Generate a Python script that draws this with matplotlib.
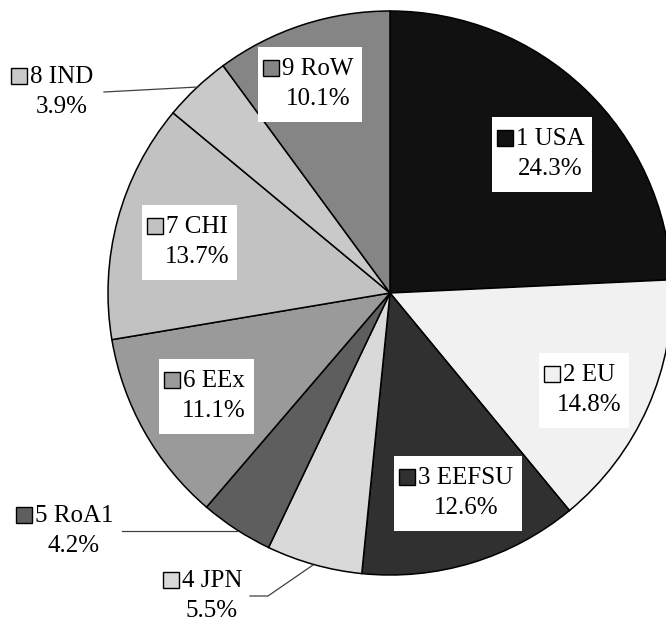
import matplotlib
matplotlib.use('Agg')
import matplotlib.pyplot as plt
from matplotlib.patches import Rectangle

regions = ['1 USA', '2 EU', '3 EEFSU', '4 JPN', '5 RoA1', '6 EEx', '7 CHI', '8 IND', '9 RoW']
shares = [24.3, 14.8, 12.6, 5.5, 4.2, 11.1, 13.7, 3.9, 10.1]
colors = ['#111111', '#f1f1f1', '#303030', '#d9d9d9', '#5e5e5e',
          '#9a9a9a', '#c2c2c2', '#c9c9c9', '#858585']

# label block centres in pixels (from top-left), and which get a white box
label_pos = [(550, 154), (589, 390), (466, 493), (212, 596), (74, 531),
             (214, 396), (197, 242), (62, 92), (318, 84)]
boxed = [True, True, True, False, False, True, True, False, True]
leaders = {3: [(250, 596), (268, 596), (313, 565)],
           4: [(122, 531), (237, 531)],
           7: [(104, 92), (198, 87)]}

plt.rcParams['font.family'] = ['Liberation Serif', 'DejaVu Serif']
W, H = 666, 621
CX, CY, R = 390, 293, 282

fig = plt.figure(figsize=(W / 100, H / 100), dpi=100)
ax = fig.add_axes([(CX - R) / W, (H - CY - R) / H, 2 * R / W, 2 * R / H])
ax.pie(shares, colors=colors, startangle=90, counterclock=False, radius=1,
       wedgeprops=dict(edgecolor='black', linewidth=1.1))
ax.set_xlim(-1, 1)
ax.set_ylim(-1, 1)
ax.axis('off')


def P(px, py):
    return (px - CX) / R, (CY - py) / R


fig.canvas.draw()
renderer = fig.canvas.get_renderer()
inv = ax.transData.inverted()

for i, name in enumerate(regions):
    cx, cy = label_pos[i]
    t1 = ax.text(*P(cx, cy - 15), name, ha='center', va='center', fontsize=18, zorder=6)
    t2 = ax.text(*P(cx, cy + 15), '%.1f%%' % shares[i], ha='center', va='center',
                 fontsize=18, zorder=6)
    b1 = t1.get_window_extent(renderer)
    b2 = t2.get_window_extent(renderer)
    sq_x = inv.transform((b1.x0 - 11, 0))[0]
    ax.plot([sq_x], [P(0, cy - 16)[1]], marker='s', markersize=11.5,
            markerfacecolor=colors[i], markeredgecolor='black', markeredgewidth=1.0,
            zorder=7, clip_on=False)
    if boxed[i]:
        left = inv.transform((b1.x0 - 24, 0))[0]
        right = inv.transform((max(b1.x1, b2.x1) + 8, 0))[0]
        top = P(0, cy - 37)[1]
        bot = P(0, cy + 38)[1]
        ax.add_patch(Rectangle((left, bot), right - left, top - bot,
                               facecolor='white', edgecolor='none', zorder=5))
    if i in leaders:
        pts = [P(x, y) for x, y in leaders[i]]
        ax.plot([p[0] for p in pts], [p[1] for p in pts], color='#404040',
                linewidth=0.9, zorder=4, clip_on=False)

fig.savefig('out.png', dpi=100)
